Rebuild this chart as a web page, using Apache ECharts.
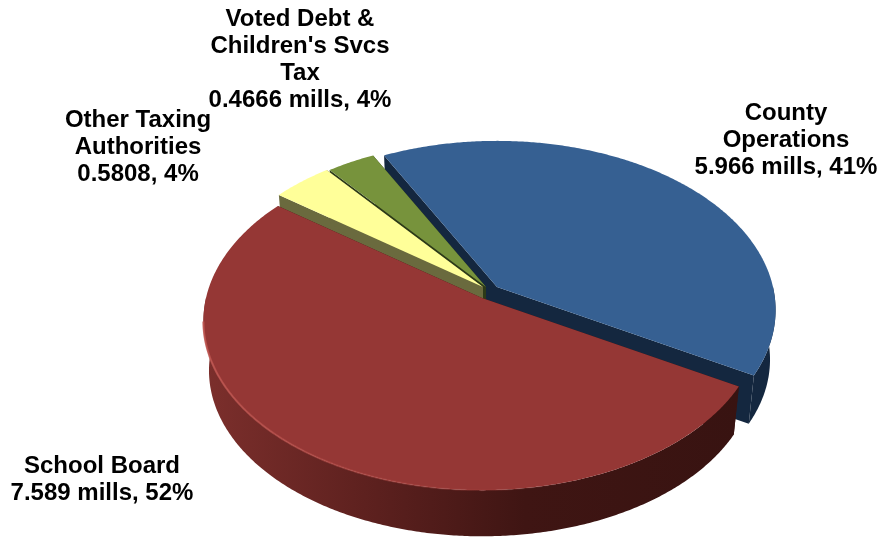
<!DOCTYPE html>
<html>
<head>
<meta charset="utf-8">
<style>html,body{margin:0;padding:0;background:#fff}#chart{width:877px;height:537px}</style>
<script src="https://cdn.jsdelivr.net/npm/echarts@6/dist/echarts.min.js"></script>
</head>
<body>
<div id="chart"></div>
<script>
// Slices run clockwise from the back of the disc.
const sliceNames = ['County Operations', 'School Board', 'Other Taxing Authorities', "Voted Debt & Children's Svcs Tax"];
const millage = [5.966, 7.589, 0.5808, 0.4666];
const labelLines = [
  ['County', 'Operations', '5.966 mills, 41%'],
  ['School Board', '7.589 mills, 52%'],
  ['Other Taxing', 'Authorities', '0.5808, 4%'],
  ['Voted Debt &', "Children's Svcs", 'Tax', '0.4666 mills, 4%']
];

// Presentation of each slice, same order as above.
const topColors = ['#366092', '#953735', '#ffff99', '#77933c'];
const wallColors = ['#14273f', '#3a1412', '#6a6a3e', '#2c3a18'];
const rimStops = [
  [[0, '#14273f'], [1, '#14273f']],
  [[0, '#7c2f2c'], [0.3, '#5e211f'], [0.6, '#3f1513'], [1, '#381311']],
  [[0, '#6a6a3e'], [1, '#6a6a3e']],
  [[0, '#4a5c26'], [1, '#4a5c26']]
];
const explode = [[14, -11], [-1, 0], [0, -11], [3, -11]];
const labelCenters = [[786, 100], [102, 453], [138, 107], [300, 6]];
const paintOrder = [0, 3, 2, 1];

// Disc projection: perspective foreshortening of a circle seen from the front.
const disc = { x: 483, y: 298, rx: 276, ry: 166, persp: 0.136, depth: 50, baseShrink: 0.98 };
const firstAngle = 242.7;
const total = millage.reduce((a, b) => a + b, 0);
const RAD = Math.PI / 180;

const spans = [];
millage.reduce((from, v, i) => {
  const to = from + v / total * 360;
  spans[i] = [from, to];
  return to;
}, firstAngle);

function project(deg, off, lower) {
  const u = Math.cos(deg * RAD), v = Math.sin(deg * RAD);
  const w = 1 - disc.persp * v;
  const s = lower ? disc.baseShrink : 1;
  return [
    disc.x + off[0] + s * disc.rx * u / w,
    disc.y + off[1] + s * disc.ry * v / w + (lower ? disc.depth : 0)
  ];
}

function arc(from, to, off, lower) {
  const pts = [];
  const n = Math.max(2, Math.ceil((to - from) * 2));
  for (let i = 0; i <= n; i++) pts.push(project(from + (to - from) * i / n, off, lower));
  return pts;
}

function poly(points, fill, z2) {
  return { type: 'polygon', z2, shape: { points }, style: { fill } };
}

function wall(deg, off, fill, z2) {
  const apex = [disc.x + off[0], disc.y + off[1]];
  const apexLow = [apex[0], apex[1] + disc.depth];
  return poly([apex, project(deg, off, false), project(deg, off, true), apexLow], fill, z2);
}

// Front-facing part of the side wall, for angles inside [lo, hi].
function rims(i, off) {
  const out = [];
  const [a, b] = spans[i];
  for (const shift of [0, 360]) {
    const lo = Math.max(a, shift), hi = Math.min(b, shift + 180);
    if (hi <= lo) continue;
    const top = arc(lo, hi, off, false);
    const low = arc(lo, hi, off, true).reverse();
    out.push(poly(top.concat(low),
      new echarts.graphic.LinearGradient(0, 0, 1, 0,
        rimStops[i].map(s => ({ offset: s[0], color: s[1] }))), 1));
  }
  return out;
}

function renderSlice(params, api) {
  const i = api.value(0);
  const off = explode[i];
  const [a, b] = spans[i];
  const apex = [disc.x + off[0], disc.y + off[1]];
  const children = [wall(a, off, wallColors[i], 0), wall(b, off, wallColors[i], 0)]
    .concat(rims(i, off))
    .concat([poly([apex].concat(arc(a, b, off, false)), topColors[i], 2)]);
  if (i === 1) {
    // soft highlight along the front lip of the large slice
    children.push({
      type: 'polyline', z2: 3,
      shape: { points: arc(70, 172, off, false) },
      style: {
        fill: null, lineWidth: 2,
        stroke: new echarts.graphic.LinearGradient(0, 0, 1, 0, [
          { offset: 0, color: 'rgba(190,85,80,0.9)' },
          { offset: 0.5, color: 'rgba(175,70,66,0.5)' },
          { offset: 1, color: 'rgba(150,55,53,0)' }
        ])
      }
    });
  }
  return { type: 'group', children };
}

const chart = echarts.init(document.getElementById('chart'), null, { renderer: 'canvas' });
chart.setOption({
  animation: false,
  backgroundColor: '#ffffff',
  series: [{
    type: 'custom',
    coordinateSystem: 'none',
    renderItem: renderSlice,
    silent: true,
    data: paintOrder.map(i => ({ name: sliceNames[i], value: [i, millage[i]] }))
  }],
  graphic: labelLines.map((lines, i) => ({
    type: 'text',
    x: labelCenters[i][0],
    y: labelCenters[i][1],
    silent: true,
    z: 10,
    style: {
      text: lines.join('\n'),
      fill: '#000',
      align: 'center',
      verticalAlign: 'top',
      font: 'bold 24px "Liberation Sans", Arial, sans-serif',
      lineHeight: 27
    }
  }))
});
</script>
</body>
</html>
